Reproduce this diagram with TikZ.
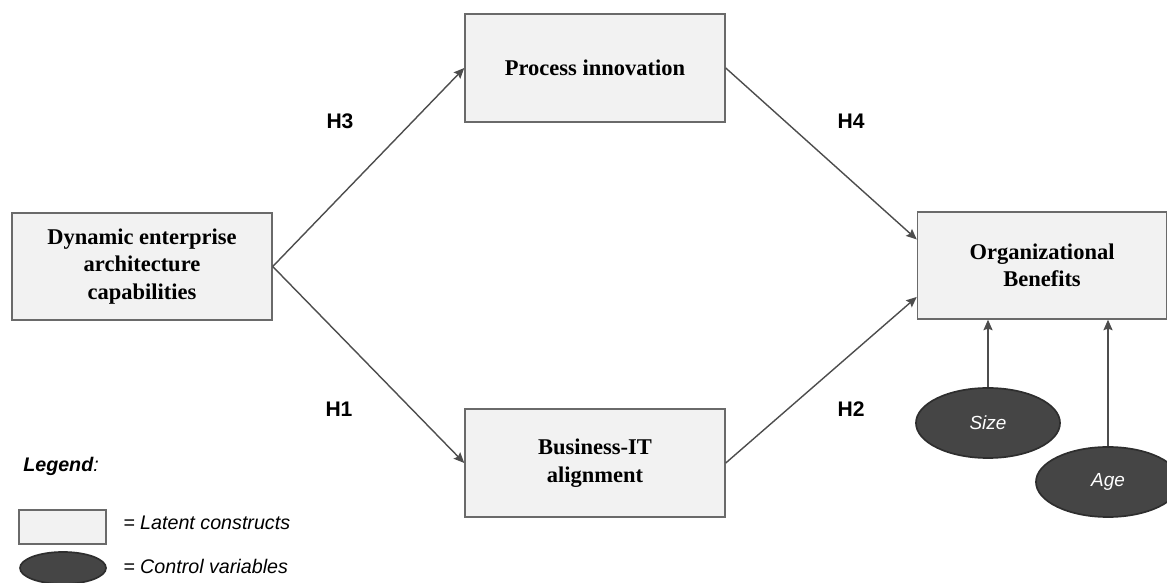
\documentclass[tikz,border=0pt]{standalone}
\usepackage{xcolor}
\usepackage{fontspec}
\setmainfont{Liberation Serif}
\setsansfont{Liberation Sans}
\usetikzlibrary{arrows.meta,calc,shapes.geometric}
\definecolor{boxfill}{HTML}{F2F2F2}
\definecolor{boxline}{HTML}{6A6A6A}
\definecolor{arrowgray}{HTML}{4D4D4D}
\definecolor{ctrlfill}{HTML}{454545}
\definecolor{ctrlline}{HTML}{2E2E2E}

\begin{document}
\begin{tikzpicture}[x=0.025cm,y=-0.025cm,>={Stealth[length=7.5pt,width=6.5pt,inset=1.2pt]},
    construct/.style={draw=boxline,fill=boxfill,line width=1pt,align=center,
        font=\fontsize{16}{19.5}\selectfont\bfseries,inner sep=0pt},
    control/.style={ellipse,draw=ctrlline,fill=ctrlfill,line width=1.2pt,
        minimum width=3.6cm,minimum height=1.75cm,inner sep=0pt,
        text=white,font=\sffamily\itshape\fontsize{13.5}{16}\selectfont},
    hyp/.style={font=\sffamily\bfseries\fontsize{15}{18}\selectfont},
    legtext/.style={anchor=west,inner sep=0pt,font=\sffamily\itshape\fontsize{14}{17}\selectfont},
    link/.style={->,draw=arrowgray,line width=1pt}]
        \path[use as bounding box,clip] (0,0) rectangle (1167,583);
        % latent constructs
        \node[construct,minimum width=6.5cm,minimum height=2.675cm] (deac) at (142,266.5) {Dynamic enterprise\\architecture\\capabilities};
        \node[construct,minimum width=6.5cm,minimum height=2.7cm] (proc) at (595,68) {Process innovation};
        \node[construct,minimum width=6.5cm,minimum height=2.7cm] (bit) at (595,463) {Business-IT\\alignment};
        \node[construct,minimum width=6.225cm,minimum height=2.675cm] (orgb) at (1042,265.5) {Organizational\\Benefits};
        % control variables
        \node[control] (size) at (988,423) {Size};
        \node[control] (age) at (1108,482) {Age};
        \coordinate (orgb in1) at ($(orgb.north west)!0.26!(orgb.south west)$);
        \coordinate (orgb in2) at ($(orgb.north west)!0.79!(orgb.south west)$);
        \draw[link] (deac.east) -- (proc.west);
        \draw[link] (deac.east) -- (bit.west);
        \draw[link] (proc.east) -- (orgb in1);
        \draw[link] (bit.east) -- (orgb in2);
        \draw[link] (size.north) -- (size.north |- orgb.south);
        \draw[link] (age.north) -- (age.north |- orgb.south);
        \node[hyp] (h3) at (340,121) {H3};
        \node[hyp] (h4) at (851,121) {H4};
        \node[hyp] (h1) at (339,409) {H1};
        \node[hyp] (h2) at (851,409) {H2};
        % legend
        \node[legtext] (leg) at (23,466) {\textbf{Legend}:};
        \node[construct,minimum width=2.175cm,minimum height=0.85cm] (legbox) at (62.5,527) {};
        \node[control,minimum width=2.15cm,minimum height=0.8cm] (legell) at (63,568) {};
        \node[legtext] (legbox txt) at (123,523) {= Latent constructs};
        \node[legtext] (legell txt) at (123,566) {= Control variables};
\end{tikzpicture}
\end{document}
